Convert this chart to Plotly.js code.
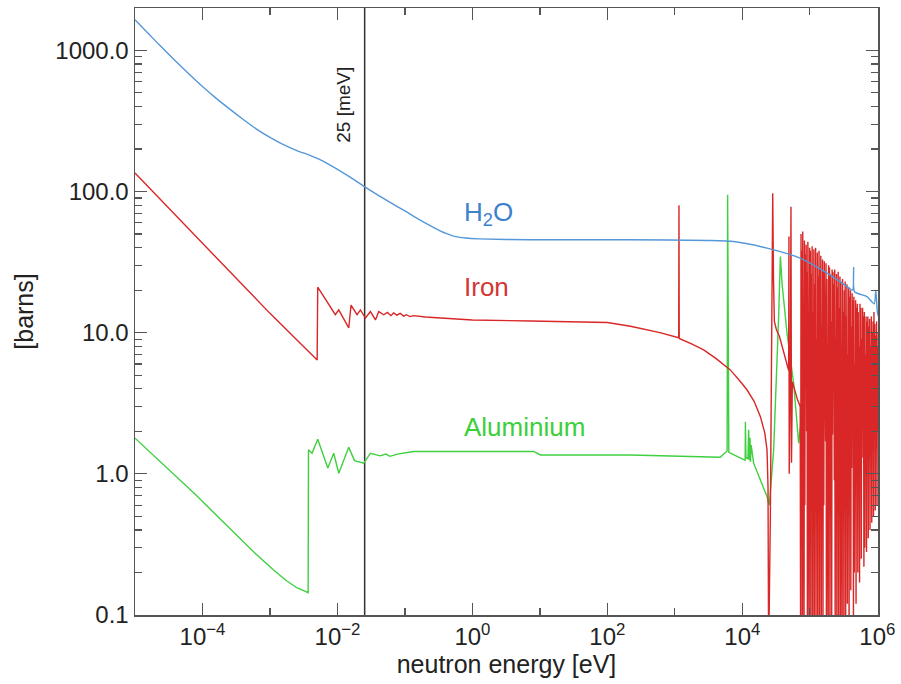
<!DOCTYPE html>
<html>
<head>
<meta charset="utf-8">
<script src="https://cdn.plot.ly/plotly-3.0.1.min.js"></script>
<style>
  html, body { margin: 0; padding: 0; background: #ffffff; }
  #chart { width: 901px; height: 684px; }
</style>
</head>
<body>
<div id="chart"></div>
<script>
// ---------------- data (energies in eV, cross sections in barns) ----------------
const h2oE = [1e-5, 1.585e-5, 2.512e-5, 3.981e-5, 6.31e-5, 1e-4, 1.585e-4, 2.512e-4, 3.981e-4, 6.31e-4, 1e-3, 1.585e-3, 2.512e-3, 3.981e-3, 6.31e-3, 1e-2, 1.585e-2, 2.512e-2, 3.981e-2, 6.31e-2, 0.1, 0.1585, 0.2512, 0.3981, 0.5623, 0.7943, 1.259, 7.2, 220, 3200, 7400, 23200, 72000, 180000, 356000, 430000, 446000, 460000, 703000, 900000, 950000, 1.0e6, 1.04e6];
const h2oS = [1648, 1312, 1047, 841, 681, 555, 459, 385, 325, 277, 242, 215, 195, 179.5, 163, 143.5, 125.3, 108.4, 94.4, 82.8, 72.8, 63.8, 56.5, 50.7, 47.9, 46.8, 46.2, 45.5, 45.5, 45.0, 44.2, 39.7, 33.7, 26.4, 21.2, 20.0, 29.0, 19.5, 18.0, 16.0, 20.0, 14.0, 13.0];

const alE = [1e-5, 2e-5, 3.98e-5, 7.94e-5, 1.58e-4, 3.16e-4, 6.3e-4, 1.12e-3, 1.78e-3, 2.5e-3, 3.68e-3, 3.72e-3, 4.2e-3, 5.1e-3, 7.2e-3, 8.8e-3, 1.045e-2, 1.47e-2, 1.79e-2, 2.45e-2, 3.08e-2, 4.3e-2, 5.2e-2, 6.0e-2, 7.7e-2, 0.135, 8.1, 10.2, 220, 4700, 5600, 5950, 6050, 6150, 6300, 10500, 11000, 11100, 11300, 12100, 12400, 12700, 13000, 13200, 13500, 14700, 23200, 25100, 29100, 34500, 36600, 38700, 45900, 57500, 68300, 75000, 90000, 110000, 150000, 200000, 300000, 500000, 1.0e6];
const alS = [1.79, 1.32, 0.977, 0.711, 0.513, 0.369, 0.268, 0.209, 0.174, 0.156, 0.144, 1.48, 1.40, 1.76, 1.10, 1.40, 1.01, 1.54, 1.24, 1.19, 1.40, 1.34, 1.38, 1.33, 1.38, 1.44, 1.44, 1.36, 1.36, 1.31, 1.41, 1.45, 95, 1.45, 1.42, 1.26, 1.25, 2.34, 1.3, 1.28, 2.05, 1.25, 1.8, 1.22, 1.6, 1.19, 0.69, 0.60, 1.48, 13, 34.6, 22.4, 9.9, 4.4, 1.65, 2.5, 6.0, 3.0, 5.0, 3.5, 4.0, 3.0, 2.5];

const ironE = [1e-5, 1e-4, 1e-3, 5.0e-3, 5.1e-3, 9.3e-3, 1.045e-2, 1.47e-2, 1.59e-2, 1.95e-2, 2.19e-2, 2.6e-2, 3.08e-2, 3.66e-2, 4.09e-2, 4.85e-2, 5.5e-2, 6.2e-2, 6.8e-2, 7.6e-2, 8.5e-2, 9.6e-2, 0.105, 0.118, 0.135, 0.2, 0.5, 1.0, 7.2, 100, 220, 600, 1140, 1150, 1160, 1800, 2670, 4000, 6640, 9000, 11700, 15000, 18500, 21500, 23200, 24000, 24500, 26000, 27300, 28200, 28900, 29800, 32000, 35500, 40000, 44700, 48500, 49000, 49500, 51500, 52500, 53500, 55000, 60000, 65000, 72000,
  73000, 74000, 75000, 76200, 77300, 78500, 79600, 80800, 82000, 83200, 84400, 85600, 86900, 88200, 89500, 90800, 92100, 93500, 94900, 96300, 97700, 99100,
  100500, 102000, 103500, 105000, 106600, 108200, 109800, 111400, 113000, 114700, 116400, 118100, 119900, 121700, 123500, 125300, 127200, 129100, 131000, 133000, 135000, 137000, 139000, 141100,
  143200, 145300, 147500, 149700, 151900, 154200, 156500, 158800, 161200, 163600, 166000, 168500, 171000, 173600, 176200, 178800, 181500, 184200, 187000, 189800, 192600, 195500, 198400,
  201400, 204400, 207500, 210600, 213700, 216900, 220200, 223500, 226800, 230200, 233700, 237200, 240700, 244300, 248000, 251700, 255500, 259300, 263200, 267100, 271100, 275200, 279300, 283500,
  287700, 292000, 296400, 300800, 305300, 309900, 314500, 319200, 324000, 328900, 333800, 338800, 343900, 349000, 354300, 359600, 365000, 370400, 376000, 381600, 387300, 393100, 399000,
  405000, 411000, 417200, 423400, 429800, 436200, 442800, 449400, 456100, 463000, 469900, 477000, 484100, 491300, 498700, 506200, 513800, 521500, 529300, 537200, 545300, 553400, 561700,
  570100, 578700, 587400, 596200, 605100, 614200, 623400, 632700, 642200, 651800, 661600, 671500, 681600, 691800, 702200, 712700, 723400, 734200, 745200, 756400, 767700, 779200, 790900,
  802700, 814800, 827000, 839400, 852000, 864800, 877700, 890900, 904300, 917800, 931600, 945500, 959700, 974100, 988700, 1003500, 1018600, 1033900];
const ironS = [135, 43, 13.7, 6.4, 21.0, 13.4, 14.5, 10.8, 15.7, 13.4, 14.5, 12.7, 14.1, 12.3, 14.1, 13.4, 13.9, 13.2, 13.8, 13.3, 13.7, 13.1, 13.4, 13.0, 13.2, 12.9, 12.5, 12.3, 12.1, 11.8, 11.1, 10.0, 9.2, 80, 9.1, 8.3, 7.55, 6.6, 5.45, 4.6, 3.94, 3.25, 2.54, 1.95, 1.48, 0.8, 0.05, 0.5, 15, 97, 25, 12, 10.5, 9.4, 7.6, 6.1, 5.4, 48, 1.0, 4.8, 78, 1.2, 4.5, 3.9, 3.4, 3.0,
  0.05, 50, 0.3, 38, 0.05, 52, 1.5, 12, 0.05, 45, 0.6, 36, 4.0, 42, 2.0, 27, 0.05, 44, 0.9, 8, 0.05, 40,
  0.4, 38, 0.05, 26, 5.0, 41, 0.05, 14, 0.7, 39, 0.05, 22, 2.5, 40, 0.06, 9, 0.5, 37, 0.05, 25, 6.0, 38, 0.05, 29,
  0.8, 35, 0.05, 11, 3.0, 33, 0.07, 27, 0.6, 32, 4.5, 19, 1.7, 31, 0.05, 24, 1.0, 7, 0.05, 30, 2.6, 29, 0.08,
  26, 0.5, 12, 0.05, 28, 1.9, 27, 5, 22, 0.9, 28, 0.06, 9, 2.8, 26, 0.05, 21, 4, 27, 0.07, 15, 0.6, 25, 0.05,
  23, 1.6, 8, 0.06, 24, 2.2, 14, 0.1, 20, 3.5, 23, 0.05, 13, 1.8, 22, 0.12, 7, 0.9, 21, 0.06, 18, 2.0, 20,
  0.15, 11, 1.1, 19, 3.0, 17, 0.1, 18, 0.2, 6, 0.8, 17, 0.12, 15, 2.5, 16, 0.2, 14, 1.0, 8, 0.17, 16, 2.2,
  15, 0.25, 9, 1.3, 15, 3.5, 13, 0.22, 14, 0.3, 7, 1.0, 13, 0.28, 12, 2.3, 13, 0.35, 11, 4, 12.5, 0.4, 8,
  2.0, 13, 0.45, 10, 3.0, 12, 0.5, 14, 2.2, 11.5, 0.55, 9.5, 1.5, 12, 0.6, 8, 2.0, 10];

const thermalE = [0.0253, 0.0253];
const thermalS = [0.01, 10000];

const xTickVals = [1e-4, 1e-2, 1, 1e2, 1e4, 1e6];
const xTickText = ["10<sup>\u22124</sup>", "10<sup>\u22122</sup>", "10<sup>0</sup>", "10<sup>2</sup>", "10<sup>4</sup>", "10<sup>6</sup>"];
const xMinorVals = [1e-3, 1e-1, 1e1, 1e3, 1e5];
const yTickVals = [0.1, 1, 10, 100, 1000];
const yTickText = ["0.1", "1.0", "10.0", "100.0", "1000.0"];
const yMinorVals = [0.2,0.3,0.4,0.5,0.6,0.7,0.8,0.9, 2,3,4,5,6,7,8,9, 20,30,40,50,60,70,80,90, 200,300,400,500,600,700,800,900];

// ---------------- styles ----------------
const FONT = "Liberation Sans, Arial, Helvetica, sans-serif";
const BLUE = "#5597d8";
const RED = "#d92727";
const GREEN = "#3fcf3f";
const AXC = "#555555";
const XR = [-5, 6.01];
const YR = [-1, 3.3];

const traces = [
  {x: thermalE, y: thermalS, mode: "lines", line: {color: "#333333", width: 1.5}, hoverinfo: "skip"},
  {x: alE, y: alS, mode: "lines", line: {color: GREEN, width: 1.4}, name: "Aluminium"},
  {x: ironE, y: ironS, mode: "lines", line: {color: RED, width: 1.4}, name: "Iron"},
  {x: h2oE, y: h2oS, mode: "lines", line: {color: BLUE, width: 1.4, shape: "spline", smoothing: 0.6}, name: "H2O"},
  // carrier for the mirrored tick axes (top / right), not visible
  {x: thermalE, y: thermalS, xaxis: "x2", yaxis: "y2", mode: "lines", line: {width: 0, color: "rgba(0,0,0,0)"}, hoverinfo: "skip"}
];

function baseAxis(extra) {
  return Object.assign({
    type: "log", showgrid: false, zeroline: false,
    ticks: "inside", ticklen: 12, tickwidth: 1.2, tickcolor: AXC,
    tickmode: "array"
  }, extra);
}

const layout = {
  width: 901, height: 684,
  margin: {l: 135, r: 23, t: 8, b: 69},
  paper_bgcolor: "#ffffff",
  plot_bgcolor: "#ffffff",
  showlegend: false,
  xaxis: baseAxis({
    range: XR, showline: true, linecolor: AXC, linewidth: 1.5, mirror: true,
    tickvals: xTickVals, ticktext: xTickText,
    tickfont: {family: FONT, size: 24, color: "#222222"},
    minor: {tickmode: "array", tickvals: xMinorVals, ticks: "inside", ticklen: 7, tickwidth: 1.2, tickcolor: AXC},
    title: {text: "neutron energy [eV]", font: {family: FONT, size: 25, color: "#222222"}, standoff: 6}
  }),
  yaxis: baseAxis({
    range: YR, showline: true, linecolor: AXC, linewidth: 1.5, mirror: true,
    tickvals: yTickVals, ticktext: yTickText,
    tickfont: {family: FONT, size: 24, color: "#222222"},
    minor: {tickmode: "array", tickvals: yMinorVals, ticks: "inside", ticklen: 7, tickwidth: 1.2, tickcolor: AXC},
    title: {text: "[barns]", font: {family: FONT, size: 25, color: "#222222"}, standoff: 14}
  }),
  xaxis2: baseAxis({
    overlaying: "x", side: "top", anchor: "y", range: XR, showline: false, showticklabels: false,
    tickvals: xTickVals,
    minor: {tickmode: "array", tickvals: xMinorVals, ticks: "inside", ticklen: 7, tickwidth: 1.2, tickcolor: AXC}
  }),
  yaxis2: baseAxis({
    overlaying: "y", side: "right", anchor: "x", range: YR, showline: false, showticklabels: false,
    tickvals: yTickVals,
    minor: {tickmode: "array", tickvals: yMinorVals, ticks: "inside", ticklen: 7, tickwidth: 1.2, tickcolor: AXC}
  }),
  annotations: [
    {x: -0.153, y: 1.847, xref: "x", yref: "y", text: "H<sub>2</sub>O", showarrow: false, xanchor: "left", yanchor: "middle", font: {family: FONT, size: 26, color: "#3b82cc"}},
    {x: -0.153, y: 1.323, xref: "x", yref: "y", text: "Iron", showarrow: false, xanchor: "left", yanchor: "middle", font: {family: FONT, size: 26, color: "#d43535"}},
    {x: -0.153, y: 0.331, xref: "x", yref: "y", text: "Aluminium", showarrow: false, xanchor: "left", yanchor: "middle", font: {family: FONT, size: 26, color: "#3ccf3c"}},
    {x: Math.log10(thermalE[0]), y: 2.612, xref: "x", yref: "y", xshift: -22, text: "25 [meV]", textangle: -90, showarrow: false, xanchor: "center", yanchor: "middle", font: {family: FONT, size: 19, color: "#222222"}}
  ]
};

Plotly.newPlot("chart", traces, layout, {displayModeBar: false, staticPlot: true});
</script>
</body>
</html>
